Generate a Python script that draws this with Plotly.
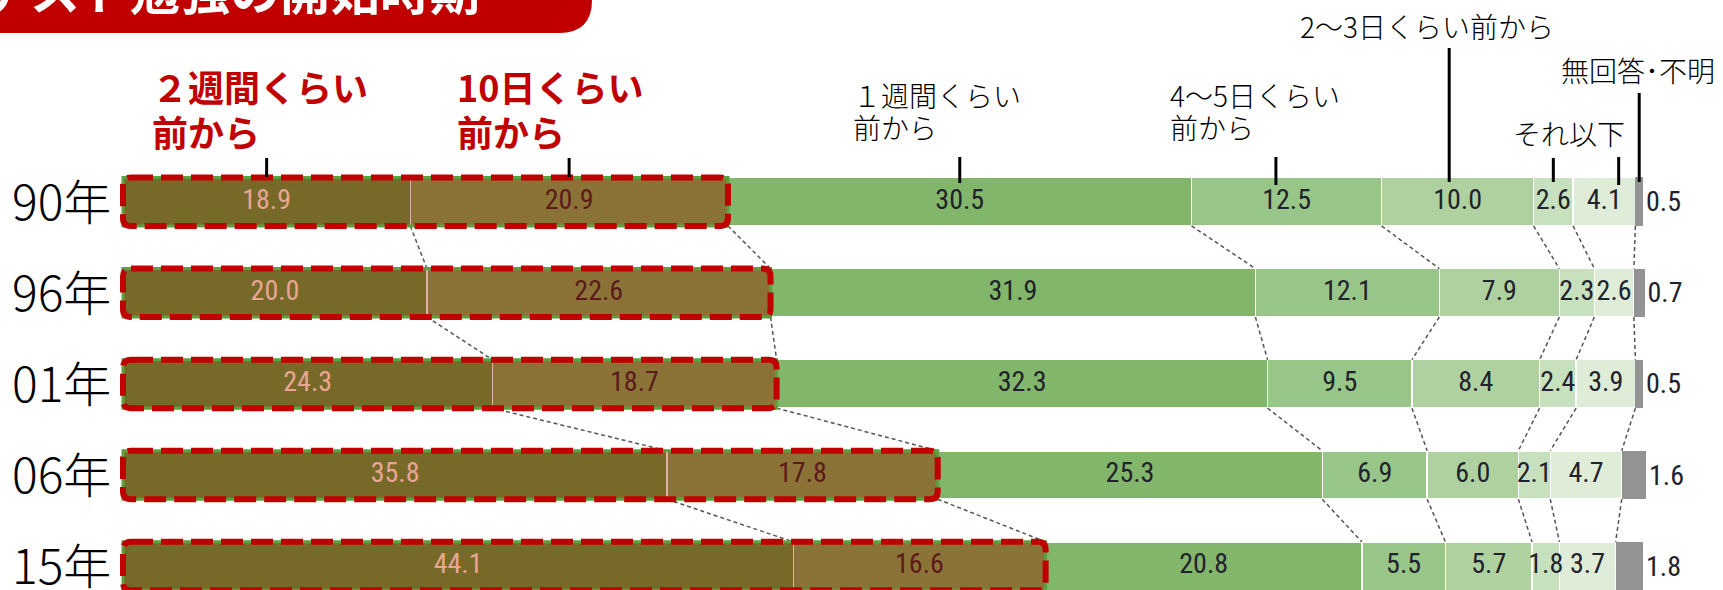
import plotly.graph_objects as go
import numpy as np

# ---------------- data ----------------
years = ["90年", "96年", "01年", "06年", "15年"]
seg_names = ["2週間くらい前から", "10日くらい前から", "1週間くらい前から",
             "4～5日くらい前から", "2～3日くらい前から", "それ以下A", "それ以下B", "無回答・不明"]
two_weeks = [18.9, 20.0, 24.3, 35.8, 44.1]
ten_days = [20.9, 22.6, 18.7, 17.8, 16.6]
one_week = [30.5, 31.9, 32.3, 25.3, 20.8]
four_five_days = [12.5, 12.1, 9.5, 6.9, 5.5]
two_three_days = [10.0, 7.9, 8.4, 6.0, 5.7]
less_a = [2.6, 2.3, 2.4, 2.1, 1.8]
less_b = [4.1, 2.6, 3.9, 4.7, 3.7]
no_answer = [0.5, 0.7, 0.5, 1.6, 1.8]

series = [two_weeks, ten_days, one_week, four_five_days, two_three_days, less_a, less_b, no_answer]

# ---------------- styling ----------------
W, H = 1723, 590
X0_PX, PX_PER_PCT = 123.0, 15.2
Y0_PX, PX_PER_ROW = 201.7, 91.1
BAR_W = 0.532
HW = BAR_W / 2

colors = ["#776A29", "#8B7338", "#82B66A", "#98C588", "#AFD1A0", "#C7E0BD", "#DEECD8", "#939393"]
text_colors = ["#E9A595", "#5C1A1A", "#22222E", "#22222E", "#22222E", "#22222E", "#22222E", "#22222E"]
line_colors = ["#E6B0A6", "#E6B0A6", "white", "white", "white", "white", "white", "white"]
NUM_FONT = "Liberation Sans Narrow, Roboto Condensed, DejaVu Sans Condensed, Arial Narrow, sans-serif"
JP_FONT = "Noto Sans CJK JP, sans-serif"
RED = "#C00000"

ypos = list(range(len(years)))

def px_x(px):
    return (px - X0_PX) / PX_PER_PCT

def py_y(py):
    return (py - Y0_PX) / PX_PER_ROW

def pp_x(px):
    return px / W

def pp_y(py):
    return 1 - py / H

fig = go.Figure()

for k, (name, vals) in enumerate(zip(seg_names, series)):
    last = k == len(series) - 1
    fig.add_trace(go.Bar(
        y=ypos, x=vals, orientation="h", name=name, width=BAR_W,
        marker=dict(color=colors[k], line=dict(color=line_colors[k], width=1.5 if k < 7 else 0)),
        text=[f"{v:.1f}" for v in vals] if last else None,
        textposition="outside" if last else "none",
        textangle=0,
        constraintext="none",
        textfont=dict(family=NUM_FONT, size=28, color=text_colors[k]),
        hoverinfo="skip",
        cliponaxis=False,
    ))

# cumulative boundaries
cum = np.cumsum(np.array(series), axis=0)  # shape (8, 5)

# dashed connectors between bars
cx, cy = [], []
for k in range(7):
    for i in range(len(years) - 1):
        cx += [cum[k][i], cum[k][i + 1], None]
        cy += [ypos[i] + HW, ypos[i + 1] - HW, None]
fig.add_trace(go.Scatter(x=cx, y=cy, mode="lines", hoverinfo="skip",
                         line=dict(color="#555555", width=1.5, dash="4px,3px")))

# value labels inside segments (drawn on top of all bars)
for k in range(7):
    mids = cum[k] - np.array(series[k]) / 2
    fig.add_trace(go.Scatter(
        x=mids, y=ypos, mode="text", text=[f"{v:.1f}" for v in series[k]],
        textposition="middle center", hoverinfo="skip", cliponaxis=False,
        textfont=dict(family=NUM_FONT, size=28, color=text_colors[k]),
    ))

shapes = []

# red dashed boxes around first two segments
def rounded(x0, x1, y0, y1, rx, ry):
    return (f"M {x0+rx},{y0} L {x1-rx},{y0} Q {x1},{y0} {x1},{y0+ry} "
            f"L {x1},{y1-ry} Q {x1},{y1} {x1-rx},{y1} L {x0+rx},{y1} "
            f"Q {x0},{y1} {x0},{y1-ry} L {x0},{y0+ry} Q {x0},{y0} {x0+rx},{y0} Z")

for i in ypos:
    x1 = cum[1][i]
    shapes.append(dict(type="rect", xref="x", yref="y", x0=0, x1=x1, y0=i - HW, y1=i + HW,
                       line=dict(color="#5FA03E", width=3), layer="above"))
    shapes.append(dict(type="path", xref="x", yref="y",
                       path=rounded(0, x1, i - HW, i + HW, 8 / PX_PER_PCT, 8 / PX_PER_ROW),
                       line=dict(color=RED, width=6, dash="22px,8px"), layer="above"))

# leader lines from header labels to 90年 segments
centers90 = [cum[k][0] - series[k][0] / 2 for k in range(8)]
leader_offsets = [0, 0, 0, -0.7, -0.55, 0, 0.95, 0]
leader_top_px = [158, 158, 157, 157, 48, 158, 157, 93]
leader_bot_px = [177, 177, 183, 185, 182, 182, 185, 182]
for k in range(8):
    xx = centers90[k] + leader_offsets[k]
    shapes.append(dict(type="line", xref="x", yref="y", x0=xx, x1=xx,
                       y0=py_y(leader_top_px[k]), y1=py_y(leader_bot_px[k]),
                       line=dict(color="black", width=3), layer="above"))

# title banner (cut off at the top)
rxp, ryp = 33 / W, 33 / H
xr, yb = 592 / W, 1 - 33 / H
shapes.append(dict(type="path", xref="paper", yref="paper",
                   path=f"M 0,1.1 L {xr},1.1 L {xr},1 Q {xr},{yb} {xr-rxp},{yb} L 0,{yb} Z",
                   fillcolor=RED, line=dict(width=0), layer="above"))

annotations = []
annotations.append(dict(text="<b>テスト勉強の開始時期</b>", xref="paper", yref="paper",
                        x=pp_x(-22), y=pp_y(-12), xanchor="left", yanchor="middle", showarrow=False,
                        font=dict(family=JP_FONT, size=50, color="white")))

# year labels
for i, yl in enumerate(years):
    annotations.append(dict(text=yl, xref="x", yref="y", x=px_x(113), y=ypos[i] - 3 / PX_PER_ROW,
                            xanchor="right", yanchor="middle", showarrow=False,
                            font=dict(family=JP_FONT, size=48, color="black", weight=300)))

# header labels: (text, x_px, y_px, anchor, size, color, bold)
headers = [
    ("２週間くらい", 150, 86, "left", 36, RED, True),
    ("前から", 150, 131, "left", 36, RED, True),
    ("10日くらい", 455, 86, "left", 36, RED, True),
    ("前から", 455, 131, "left", 36, RED, True),
    ("１週間くらい", 851, 95, "left", 28, "black", False),
    ("前から", 851, 127, "left", 28, "black", False),
    ("4～5日くらい", 1168, 95, "left", 28, "black", False),
    ("前から", 1168, 127, "left", 28, "black", False),
    ("2～3日くらい前から", 1427, 26, "center", 28, "black", False),
    ("無回答･不明", 1638, 70, "center", 28, "black", False),
    ("それ以下", 1569, 133, "center", 28, "black", False),
]
for t, xp, yp, anc, sz, col, bold in headers:
    annotations.append(dict(text=f"<b>{t}</b>" if bold else t, xref="paper", yref="paper",
                            x=pp_x(xp), y=pp_y(yp), xanchor=anc, yanchor="middle",
                            showarrow=False,
                            font=dict(family=JP_FONT, size=sz, color=col,
                                      weight=700 if bold else 300)))

fig.update_layout(
    width=W, height=H,
    margin=dict(l=0, r=0, t=0, b=0, pad=0),
    barmode="stack",
    showlegend=False,
    plot_bgcolor="white", paper_bgcolor="white",
    xaxis=dict(range=[px_x(0), px_x(W)], visible=False, fixedrange=True),
    yaxis=dict(range=[py_y(H), py_y(0)], visible=False, fixedrange=True),
    shapes=shapes,
    annotations=annotations,
)

fig.write_html("out.html")
